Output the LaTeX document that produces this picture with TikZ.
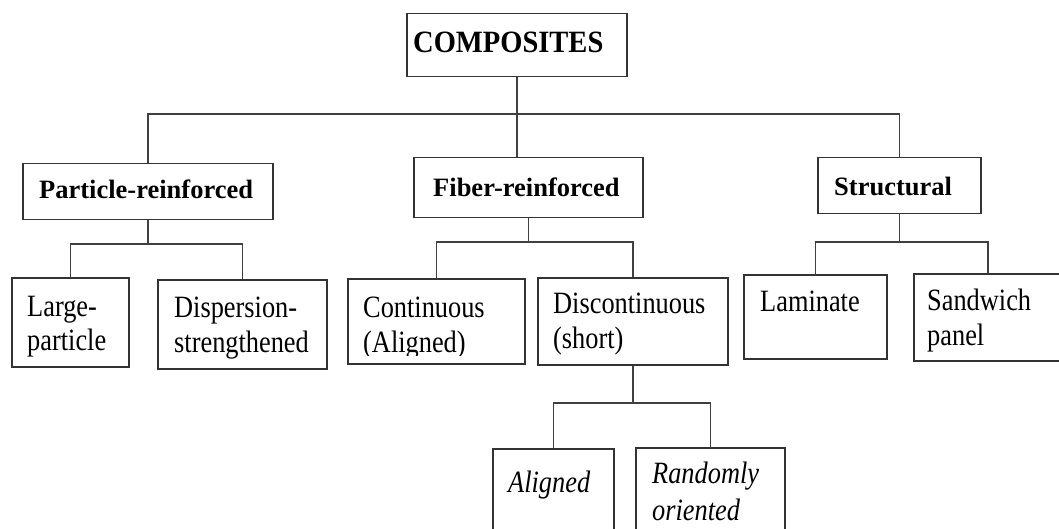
\documentclass[tikz,border=0pt]{standalone}
\usepackage{fontspec}
\setmainfont{Liberation Serif}
\newfontfamily\regf[FakeStretch=0.85]{Liberation Serif}
\newfontfamily\compf[FakeStretch=0.92]{Liberation Serif}
\begin{document}
\begin{tikzpicture}[x=1pt,y=-1pt,
  box/.style={draw=black!80, line width=1.5pt, rectangle, inner sep=0pt},
  conn/.style={draw=black!75, line width=1.5pt},
  txt/.style={inner sep=0pt, anchor=base west, font=\regf\fontsize{31}{35}\selectfont},
  head/.style={inner sep=0pt, anchor=base west, font=\fontsize{26.5}{34}\selectfont\bfseries},
  ital/.style={txt, font=\regf\fontsize{31}{35}\selectfont\itshape}]
\useasboundingbox (0,0) rectangle (1059,529);
% boxes
\node[box, minimum width=220pt, minimum height=63pt, anchor=north west] (comp) at (406,13) {};
\node[box, minimum width=250pt, minimum height=56pt, anchor=north west] (part) at (22,163) {};
\node[box, minimum width=229pt, minimum height=60pt, anchor=north west] (fib) at (413,157) {};
\node[box, minimum width=163pt, minimum height=56pt, anchor=north west] (str) at (817,157) {};
\node[box, minimum width=117pt, minimum height=89pt, anchor=north west] (lp) at (11,277) {};
\node[box, minimum width=169pt, minimum height=89pt, anchor=north west] (ds) at (157,279) {};
\node[box, minimum width=177pt, minimum height=85pt, anchor=north west] (co) at (347,278) {};
\node[box, minimum width=190pt, minimum height=87pt, anchor=north west] (dc) at (537,277) {};
\node[box, minimum width=143pt, minimum height=84pt, anchor=north west] (lam) at (743,274) {};
\node[box, minimum width=148pt, minimum height=87pt, anchor=north west] (sw) at (913,273) {};
\node[box, minimum width=121pt, minimum height=100pt, anchor=north west] (al) at (492,448) {};
\node[box, minimum width=149pt, minimum height=100pt, anchor=north west] (ro) at (635,447) {};
% texts
\node[inner sep=0pt, anchor=base west, font=\compf\fontsize{31}{35}\selectfont\bfseries] (tcomp) at (413,53) {COMPOSITES};
\node[head] (tpart) at (39,199) {Particle-reinforced};
\node[head] (tfib) at (433,197) {Fiber-reinforced};
\node[head] (tstr) at (834,196) {Structural};
\node[txt] (tlp1) at (27,316) {Large-};
\node[txt] (tlp2) at (27,350) {particle};
\node[txt] (tds1) at (174,317) {Dispersion-};
\node[txt] (tds2) at (174,352) {strengthened};
\node[txt] (tco1) at (363,317) {Continuous};
\begin{scope}
\clip (350,325) rectangle (520,355);
\node[txt] (tco2) at (363,352) {(Aligned)};
\end{scope}
\node[txt] (tdc1) at (553,313) {Discontinuous};
\node[txt] (tdc2) at (553,348) {(short)};
\node[txt] (tlam) at (760,311) {Laminate};
\node[txt] (tsw1) at (927,310) {Sandwich};
\node[txt] (tsw2) at (927,345) {panel};
\node[ital] (tal) at (508,492) {Aligned};
\node[ital] (tro1) at (652,483) {Randomly};
\node[ital] (tro2) at (652,520) {oriented};
% connectors
\coordinate (b0) at (0,114);
\coordinate (b1) at (0,244);
\coordinate (b2) at (0,242);
\coordinate (b3) at (0,403);
\draw[conn] (comp.south) -- (comp.south |- fib.north);
\draw[conn] (part.north) |- (b0 -| str.north) -- (str.north);
\draw[conn] (lp.north) |- (b1 -| ds.north) -- (ds.north);
\draw[conn] (part.south) -- (part.south |- b1);
\draw[conn] (co.north) |- (b2 -| dc.north) -- (dc.north);
\draw[conn] (fib.south) -- (fib.south |- b2);
\draw[conn] (lam.north) |- (b2 -| sw.north) -- (sw.north);
\draw[conn] (str.south) -- (str.south |- b2);
\draw[conn] (al.north) |- (b3 -| ro.north) -- (ro.north);
\draw[conn] (dc.south) -- (dc.south |- b3);
\end{tikzpicture}
\end{document}
